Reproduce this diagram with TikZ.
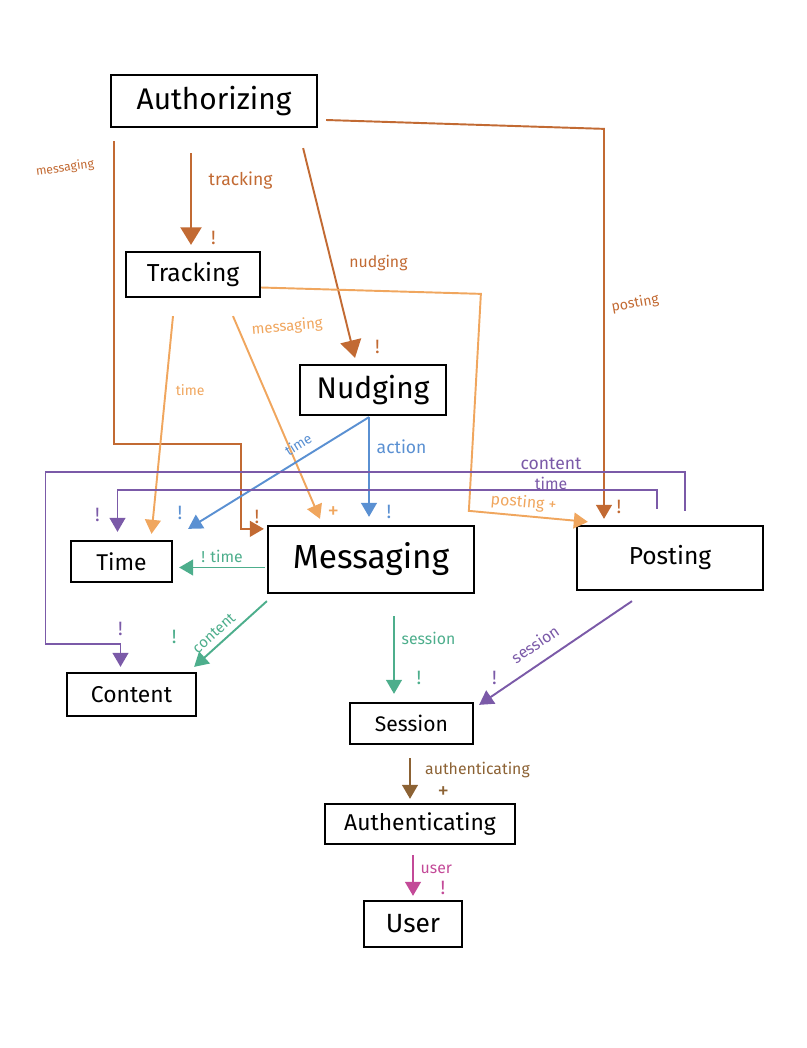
\documentclass[tikz,border=0pt]{standalone}
\usepackage{fontspec}
\setmainfont{Fira Sans}
\usetikzlibrary{arrows.meta,calc}
\definecolor{authc}{HTML}{C26A33}
\definecolor{trackc}{HTML}{F0A65E}
\definecolor{nudgec}{HTML}{5A90D2}
\definecolor{postc}{HTML}{7B5AA8}
\definecolor{msgc}{HTML}{4DAE8C}
\definecolor{sessc}{HTML}{8C6234}
\definecolor{authnc}{HTML}{C34A98}

\tikzset{
	box/.style={draw=black,line width=1.3pt,inner sep=0pt,text=black},
	lbl/.style={font=\fontsize{9}{10}\selectfont,inner sep=1pt},
	bang/.style={font=\fontsize{11}{11}\selectfont,inner sep=1pt},
	bigtip/.style={-{Triangle[length=10pt,width=12pt]}},
}

\begin{document}
\begin{tikzpicture}[x=0.02cm,y=-0.02cm,->,>={Triangle[length=8pt,width=9pt]},line width=1.1pt]
	\useasboundingbox (0,0) rectangle (806,1048);
	% boxes
	\node[box,minimum width=4.12cm,minimum height=1.04cm,font=\fontsize{17}{17}\selectfont] (auth) at (214,101) {Authorizing};
	\node[box,minimum width=2.68cm,minimum height=0.9cm,font=\fontsize{14}{14}\selectfont] (trk) at (193,274.5) {Tracking};
	\node[box,minimum width=2.92cm,minimum height=1cm,font=\fontsize{17}{17}\selectfont] (nud) at (373,390) {Nudging};
	\node[box,minimum width=2.02cm,minimum height=0.82cm,font=\fontsize{13}{13}\selectfont] (tim) at (121.5,561.5) {Time};
	\node[box,minimum width=4.12cm,minimum height=1.34cm,font=\fontsize{19}{19}\selectfont] (msg) at (371,559.5) {Messaging};
	\node[box,minimum width=3.72cm,minimum height=1.28cm,font=\fontsize{14}{14}\selectfont] (pst) at (670,558) {Posting};
	\node[box,minimum width=2.58cm,minimum height=0.86cm,font=\fontsize{13}{13}\selectfont] (cnt) at (131.5,694.5) {Content};
	\node[box,minimum width=2.46cm,minimum height=0.82cm,font=\fontsize{12}{12}\selectfont] (ses) at (411.5,723.5) {Session};
	\node[box,minimum width=3.8cm,minimum height=0.8cm,font=\fontsize{13}{13}\selectfont] (ath) at (420,824) {Authenticating};
	\node[box,minimum width=1.96cm,minimum height=0.92cm,font=\fontsize{15}{15}\selectfont] (usr) at (413,924) {User};

	% authorizing
	\draw[authc,bigtip] ($(auth.south)+(-23,25)$) -- ($(trk.north)+(-2,-6)$)
		node[lbl,font=\fontsize{10}{10}\selectfont,pos=.3,right=0.3cm] {tracking}
		node[bang,pos=.93,right=0.35cm] {!};
	\draw[authc,bigtip] ($(auth.south east)+(-15,20)$) -- ($(nud.north)+(-18,-6)$)
		node[lbl,pos=.55,right=0.3cm] {nudging}
		node[bang,pos=.95,right=0.4cm] {!};
	\draw[authc] ($(auth.east)+(8,19)$) -- ($(pst.north)+(-66,-396)$) -- ($(pst.north)+(-66,-6)$)
		node[lbl,font=\fontsize{8}{8}\selectfont,pos=.46,right=0.1cm,rotate=10] {posting}
		node[bang,pos=.97,right=0.2cm] {!};
	\draw[authc] ($(auth.south west)+(4,13)$) |- ($(msg.north west)+(-26,-81)$) -- ($(msg.north west)+(-26,4)$) -- ($(msg.north west)+(-3,4)$)
		node[bang,pos=.7,above=0.05cm] {!};
	\node[authc,lbl,font=\fontsize{7}{8}\selectfont,rotate=8] (lmsg) at (65,168) {messaging};

	% tracking
	\draw[trackc] ($(trk.south)+(-20,18)$) -- ($(tim.north)+(30,-6)$)
		node[lbl,font=\fontsize{8}{8}\selectfont,pos=.34,right=0.15cm] {time};
	\draw[trackc] ($(trk.south)+(40,18)$) -- ($(msg.north)+(-51,-6)$)
		node[lbl,font=\fontsize{8.5}{9}\selectfont,pos=.07,right=0.2cm,rotate=5] {messaging}
		node[bang,font=\fontsize{13}{13}\selectfont,pos=.97,right=0.15cm] {+};
	\draw[trackc] ($(trk.east)+(0,13)$) -- ($(pst.north west)+(-95,-231)$) -- ($(pst.north west)+(-107,-14)$) -- ($(pst.north west)+(12,-3)$)
		node[lbl,pos=.45,above=0.05cm,sloped] {posting +};

	% nudging
	\draw[nudgec] ($(nud.south)+(-4,1)$) -- ($(tim.north east)+(15,-11)$)
		node[lbl,font=\fontsize{8}{8}\selectfont,pos=.35,above=0.12cm,sloped] {time}
		node[bang,pos=.99,above left=0.1cm] {!};
	\draw[nudgec] ($(nud.south)+(-4,1)$) -- ($(msg.north)+(-2,-8)$)
		node[lbl,font=\fontsize{10}{10}\selectfont,pos=.3,right=0.1cm] {action}
		node[bang,pos=.95,right=0.3cm] {!};

	% posting
	\draw[postc] ($(pst.north east)+(-107,-16)$) |- ($(tim.north)+(-4,-50)$) -- ($(tim.north)+(-4,-8)$)
		node[bang,pos=.6,left=0.3cm] {!};
	\node[postc,lbl,font=\fontsize{9}{9}\selectfont] (ltim) at (551,483) {time};
	\draw[postc] ($(pst.north east)+(-79,-14)$) |- ($(cnt.north)+(-86,-200)$) |- ($(cnt.north)+(-11,-28)$) -- ($(cnt.north)+(-11,-5)$)
		node[bang,pos=0,above=0.1cm] {!};
	\node[postc,lbl,font=\fontsize{10}{10}\selectfont] (lcnt) at (551,464) {content};
	\draw[postc] ($(pst.south)+(-38,10)$) -- ($(ses.north east)+(5,3)$)
		node[lbl,pos=.565,above=0.2cm,sloped] {session}
		node[bang,pos=.9,above=0.15cm] {!};

	% messaging
	\draw[msgc] ($(msg.west)+(-2,8)$) -- ($(tim.east)+(6,6)$)
		node[lbl,pos=.5,above=0.05cm] {!\,\,time};
	\draw[msgc] ($(msg.south west)+(0,7)$) -- ($(cnt.north east)+(-3,-5)$)
		node[lbl,font=\fontsize{8.5}{9}\selectfont,pos=.62,above=0.08cm,sloped] {content}
		node[bang,pos=.55,left=0.95cm] {!};
	\draw[msgc] ($(msg.south)+(23,22)$) -- ($(ses.north)+(-17.5,-8)$)
		node[lbl,pos=.29,right=0.1cm] {session}
		node[bang,pos=.8,right=0.4cm] {!};

	% session
	\draw[sessc] ($(ses.south)+(-1.5,13)$) -- ($(ath.north)+(-10,-4)$)
		node[lbl,pos=.3,right=0.25cm] {authenticating}
		node[bang,font=\fontsize{13}{13}\selectfont,pos=.85,right=0.5cm] {+};

	% authenticating
	\draw[authnc] ($(ath.south)+(-7,10)$) -- ($(usr.north)+(0,-4)$)
		node[lbl,pos=.35,right=0.1cm] {user}
		node[bang,pos=.8,right=0.5cm] {!};
\end{tikzpicture}
\end{document}
